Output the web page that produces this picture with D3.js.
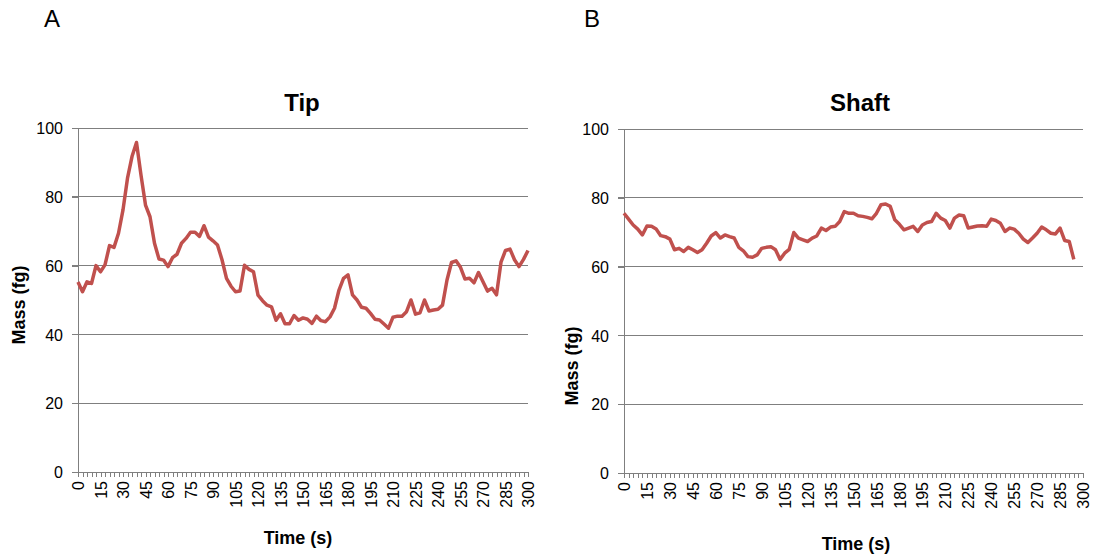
<!DOCTYPE html>
<html lang="en">
<head>
    <meta charset="UTF-8">
    <title>Tip and Shaft Mass</title>
    <script src="https://d3js.org/d3.v7.min.js"></script>
    <style>
        body {
            margin: 0;
            padding: 0;
            background-color: #ffffff;
            font-family: Arial, "Liberation Sans", sans-serif;
        }
        .grid line { stroke: #7f7f7f; stroke-width: 1; shape-rendering: crispEdges; }
        .axis path, .axis line { stroke: #7f7f7f; shape-rendering: crispEdges; }
        .axis text { font-family: Arial, "Liberation Sans", sans-serif; font-size: 16px; fill: #000; }
    </style>
</head>
<body>
    <svg id="chart"></svg>

    <script>
        const width = 1098;
        const height = 556;

        // categories: time in seconds
        const times = [0, 3, 6, 9, 12, 15, 18, 21, 24, 27, 30, 33, 36, 39, 42, 45, 48, 51, 54, 57,
            60, 63, 66, 69, 72, 75, 78, 81, 84, 87, 90, 93, 96, 99, 102, 105, 108, 111, 114, 117,
            120, 123, 126, 129, 132, 135, 138, 141, 144, 147, 150, 153, 156, 159, 162, 165, 168, 171, 174, 177,
            180, 183, 186, 189, 192, 195, 198, 201, 204, 207, 210, 213, 216, 219, 222, 225, 228, 231, 234, 237,
            240, 243, 246, 249, 252, 255, 258, 261, 264, 267, 270, 273, 276, 279, 282, 285, 288, 291, 294, 297, 300];

        const timeLabels = [0, 15, 30, 45, 60, 75, 90, 105, 120, 135, 150, 165, 180, 195, 210, 225, 240, 255, 270, 285, 300];
        const massTicks = [0, 20, 40, 60, 80, 100];

        // mass (fg) at the tip
        const tipMass = [55.2, 52.4, 55.3, 54.8, 60.0, 58.2, 60.2, 65.8, 65.3, 69.4,
            76.2, 85.4, 91.7, 95.8, 86.3, 77.6, 74.2, 66.5, 61.9, 61.6,
            59.7, 62.3, 63.3, 66.5, 67.9, 69.7, 69.7, 68.5, 71.6, 68.3,
            67.2, 66.0, 61.7, 56.3, 54.0, 52.4, 52.6, 60.1, 58.9, 58.2,
            51.4, 49.8, 48.5, 48.0, 44.1, 46.0, 43.1, 43.1, 45.5, 44.1,
            44.8, 44.4, 43.2, 45.3, 44.0, 43.7, 45.1, 47.6, 52.9, 56.3,
            57.3, 51.5, 50.0, 47.9, 47.6, 46.1, 44.4, 44.2, 43.0, 41.8,
            45.0, 45.3, 45.3, 46.6, 50.0, 45.9, 46.3, 50.0, 46.8, 47.1,
            47.3, 48.5, 55.8, 60.9, 61.4, 59.5, 56.1, 56.3, 55.0, 58.0,
            55.3, 52.6, 53.4, 51.5, 61.0, 64.4, 64.8, 61.7, 59.7, 61.8, 64.4];

        // mass (fg) at the shaft (no values for 297 and 300 s)
        const shaftMass = [75.5, 73.8, 72.1, 70.9, 69.2, 71.8, 71.7, 70.9, 69.0, 68.7,
            68.0, 64.9, 65.3, 64.4, 65.6, 64.9, 64.1, 64.9, 66.8, 68.9,
            69.9, 68.3, 69.2, 68.7, 68.3, 65.6, 64.6, 62.9, 62.7, 63.4,
            65.3, 65.6, 65.8, 64.9, 62.1, 63.9, 65.0, 69.9, 68.3, 67.8,
            67.3, 68.3, 68.9, 71.2, 70.5, 71.5, 71.7, 73.1, 76.0, 75.5,
            75.5, 74.8, 74.6, 74.3, 73.9, 75.5, 78.0, 78.2, 77.5, 73.6,
            72.3, 70.7, 71.2, 71.7, 70.2, 72.1, 72.8, 73.1, 75.5, 74.1,
            73.4, 71.2, 74.1, 75.0, 74.8, 71.2, 71.5, 71.8, 71.9, 71.7,
            73.8, 73.4, 72.6, 70.2, 71.2, 70.9, 69.7, 68.0, 67.0, 68.3,
            69.7, 71.5, 70.7, 69.7, 69.5, 71.2, 67.6, 67.3, 62.1, null, null];

        const panels = [
            { letter: "A", title: "Tip", values: tipMass, left: 78, right: 528, top: 128, bottom: 472,
              letterX: 44, titleX: 302, ylabelX: 25, ylabelY: 305, xlabelX: 298, xlabelY: 544 },
            { letter: "B", title: "Shaft", values: shaftMass, left: 624, right: 1083, top: 129, bottom: 473,
              letterX: 584, titleX: 860, ylabelX: 578, ylabelY: 366, xlabelX: 856, xlabelY: 550 }
        ];

        const svg = d3.select("#chart")
            .attr("width", width)
            .attr("height", height);

        panels.forEach(p => {
            const g = svg.append("g");

            const x = d3.scalePoint()
                .domain(times)
                .range([p.left, p.right])
                .padding(0);

            const y = d3.scaleLinear()
                .domain([0, 100])
                .range([p.bottom, p.top]);

            // horizontal gridlines
            g.append("g")
                .attr("class", "grid")
                .selectAll("line")
                .data(massTicks.filter(d => d > 0))
                .join("line")
                .attr("x1", p.left - 6)
                .attr("x2", p.right)
                .attr("y1", d => y(d))
                .attr("y2", d => y(d));

            // y axis
            const yAxis = g.append("g")
                .attr("class", "axis")
                .attr("transform", `translate(${p.left},0)`)
                .call(d3.axisLeft(y).tickValues(massTicks).tickSize(6).tickPadding(9).tickSizeOuter(0));
            yAxis.selectAll("text").attr("dy", "0.35em");

            // x axis
            const xAxis = g.append("g")
                .attr("class", "axis")
                .attr("transform", `translate(0,${p.bottom})`)
                .call(d3.axisBottom(x)
                    .tickValues(times)
                    .tickSize(5)
                    .tickSizeOuter(0)
                    .tickFormat(d => timeLabels.includes(d) ? d : ""));
            xAxis.select(".domain").attr("d", `M${p.left - 6},0.5H${p.right}`);
            xAxis.selectAll("text")
                .attr("transform", "rotate(-90)")
                .attr("text-anchor", "end")
                .attr("x", -9)
                .attr("y", 0)
                .attr("dy", "0.35em");

            // data line
            const line = d3.line()
                .defined(d => d.v != null)
                .x(d => x(d.t))
                .y(d => y(d.v));

            g.append("path")
                .datum(times.map((t, i) => ({ t: t, v: p.values[i] })))
                .attr("fill", "none")
                .attr("stroke", "#c0504d")
                .attr("stroke-width", 3.5)
                .attr("stroke-linejoin", "round")
                .attr("d", line);

            // panel letter
            svg.append("text")
                .attr("x", p.letterX)
                .attr("y", 27)
                .attr("font-size", "24px")
                .text(p.letter);

            // title
            svg.append("text")
                .attr("x", p.titleX)
                .attr("y", 111)
                .attr("text-anchor", "middle")
                .attr("font-size", "24px")
                .attr("font-weight", "bold")
                .text(p.title);

            // y label
            svg.append("text")
                .attr("transform", `translate(${p.ylabelX},${p.ylabelY}) rotate(-90)`)
                .attr("text-anchor", "middle")
                .attr("font-size", "18px")
                .attr("font-weight", "bold")
                .text("Mass (fg)");

            // x label
            svg.append("text")
                .attr("x", p.xlabelX)
                .attr("y", p.xlabelY)
                .attr("text-anchor", "middle")
                .attr("font-size", "18px")
                .attr("font-weight", "bold")
                .text("Time (s)");
        });
    </script>
</body>
</html>
